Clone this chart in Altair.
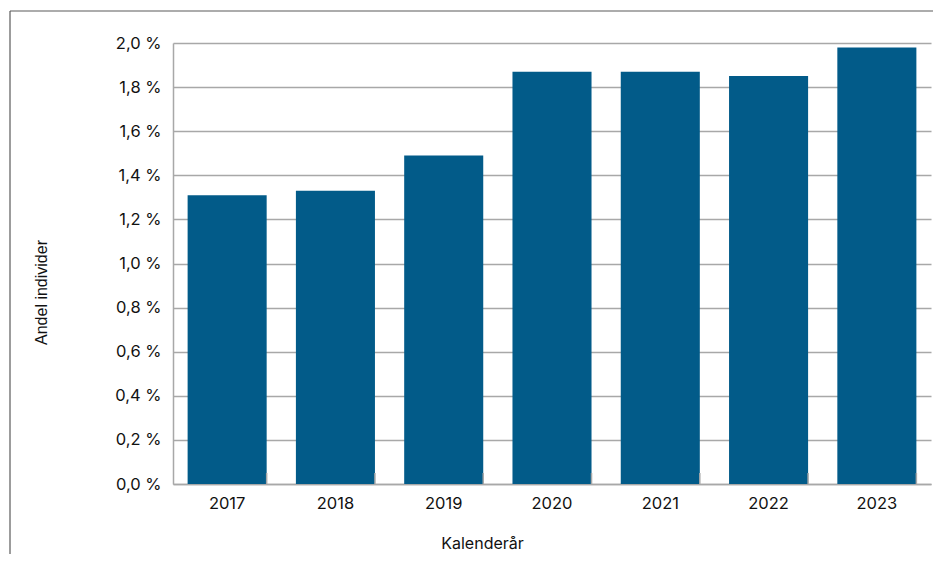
import altair as alt
import pandas as pd

years = ["2017", "2018", "2019", "2020", "2021", "2022", "2023"]
values = [1.31, 1.33, 1.49, 1.87, 1.87, 1.85, 1.98]
y_ticks = [0.0, 0.2, 0.4, 0.6, 0.8, 1.0, 1.2, 1.4, 1.6, 1.8, 2.0]

df = pd.DataFrame({"year": years, "value": values})

W, H = 758, 441
FONT = "Inter"
BAR = "#025B89"
GRID = "#A8A8A8"

xscale = alt.Scale(paddingInner=0.27, paddingOuter=0.135)
yscale = alt.Scale(domain=[0, 2.0], nice=False)

bars = alt.Chart(df).mark_bar(color=BAR).encode(
    x=alt.X("year:N", scale=xscale, sort=years,
            axis=alt.Axis(title="Kalenderår", labelAngle=0, labelFont=FONT,
                          labelFontSize=16.5, labelColor="#111111", labelPadding=11,
                          ticks=False, domainColor=GRID, domainWidth=1.5,
                          titleFont=FONT, titleFontSize=16, titleFontWeight="normal",
                          titleColor="#111111", titleX=309, titleY=59,
                          titleBaseline="middle")),
    y=alt.Y("value:Q", scale=yscale,
            axis=alt.Axis(title="Andel individer", values=y_ticks,
                          labelExpr="replace(format(datum.value, '.1f'), '.', ',') + ' %'",
                          labelFont=FONT, labelFontSize=16.5, labelColor="#111111",
                          labelPadding=12, ticks=False, domainColor=GRID,
                          domainWidth=1.5, grid=True, gridColor=GRID, gridWidth=1.3,
                          titleFont="Liberation Sans", titleFontSize=16,
                          titleFontWeight="normal", titleColor="#111111",
                          titleX=-132, titleY=249, titleAngle=-90,
                          titleBaseline="middle", titleAlign="center")),
)

ticks = alt.Chart(df).mark_rule(color=GRID, strokeWidth=1.5).encode(
    x=alt.X("year:N", scale=xscale, sort=years, bandPosition=1),
    y=alt.value(H - 11),
    y2=alt.value(H),
)

frame_top = alt.Chart(df.head(1)).mark_rule(color="#5a5a5a", strokeWidth=1.2).encode(
    x=alt.value(-163), x2=alt.value(W + 2), y=alt.value(-32)
)
frame_left = alt.Chart(df.head(1)).mark_rule(color="#5a5a5a", strokeWidth=1.2).encode(
    x=alt.value(-163), y=alt.value(-32), y2=alt.value(H + 70)
)

chart = alt.layer(bars, ticks, frame_top, frame_left).properties(
    width=W, height=H,
    autosize=alt.AutoSizeParams(type="none"),
    padding={"left": 165, "top": 35, "right": 2, "bottom": 70},
).configure_view(stroke=None)

chart.save("out.html", embed_options={"renderer": "svg", "actions": False})
